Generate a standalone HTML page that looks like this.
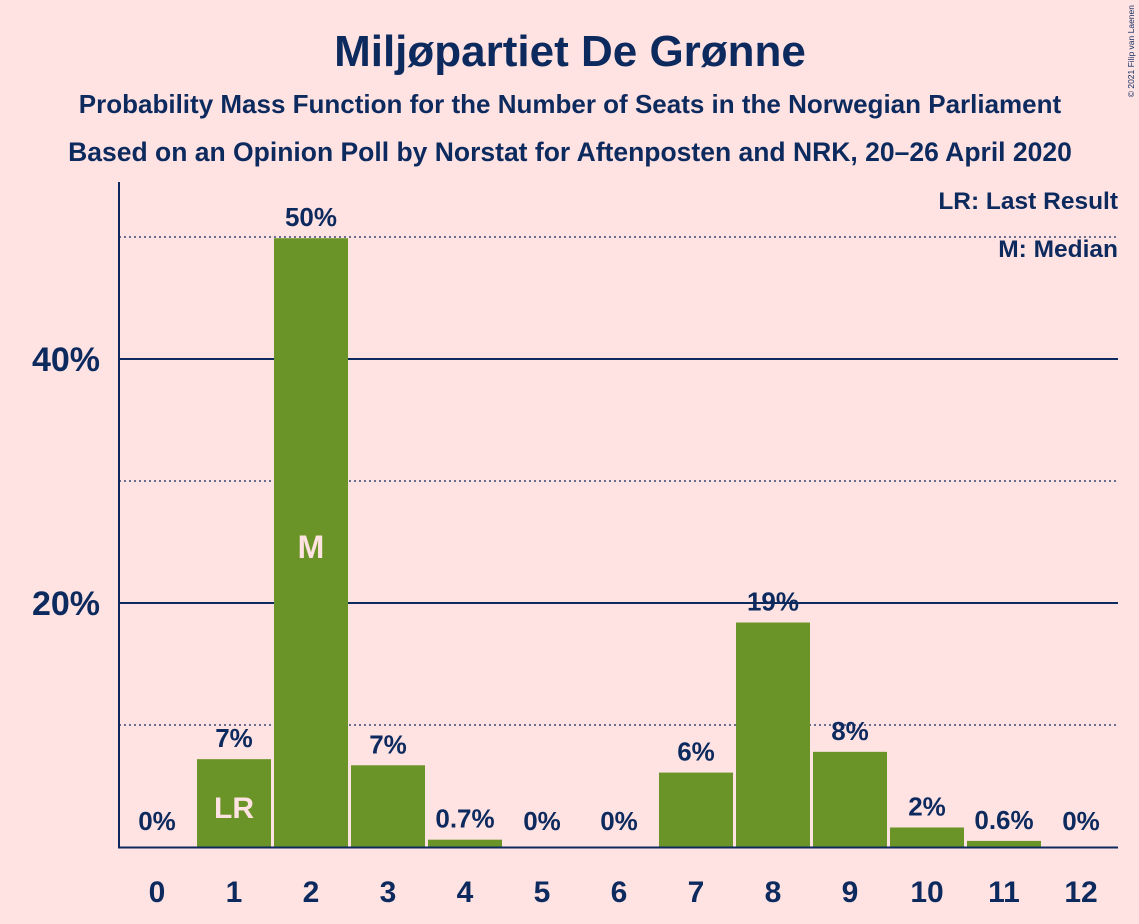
<!DOCTYPE html>
<html><head><meta charset="utf-8"><style>
body{margin:0;background:#ffe2e2;}
svg{display:block;font-family:"Liberation Sans",sans-serif;font-weight:bold;}
</style></head><body>
<svg id="chart" width="1139" height="924" viewBox="0 0 1139 924">
<rect width="1139" height="924" fill="#ffe2e2"/>
<text x="570" y="66" text-anchor="middle" font-size="44" fill="#0d2a5e">Miljøpartiet De Grønne</text>
<text x="570" y="113" text-anchor="middle" font-size="26" fill="#0d2a5e">Probability Mass Function for the Number of Seats in the Norwegian Parliament</text>
<text x="570" y="161" text-anchor="middle" font-size="26.5" fill="#0d2a5e">Based on an Opinion Poll by Norstat for Aftenposten and NRK, 20–26 April 2020</text>
<text x="1134" y="5" text-anchor="end" font-size="8.5" font-weight="normal" fill="#0d2a5e" transform="rotate(-90 1134 5)">© 2021 Filip van Laenen</text>
<text x="1118" y="209" text-anchor="end" font-size="24.5" fill="#0d2a5e">LR: Last Result</text>
<text x="1118" y="257" text-anchor="end" font-size="24.5" fill="#0d2a5e">M: Median</text>
<g id="grid"></g><g id="bars"></g><g id="labels"></g>
<line x1="119" y1="182" x2="119" y2="848" stroke="#0d2a5e" stroke-width="2"/>
<line x1="118" y1="847.5" x2="1118" y2="847.5" stroke="#0d2a5e" stroke-width="2"/>
</svg>
<script>
const seats=[0,1,2,3,4,5,6,7,8,9,10,11,12];
const probs=[0,7.2,49.9,6.7,0.6,0,0,6.1,18.4,7.8,1.6,0.5,0];
const valueLabels=["0%","7%","50%","7%","0.7%","0%","0%","6%","19%","8%","2%","0.6%","0%"];
const yTicks=[20,40];
const yTickLabels=["20%","40%"];
const dottedTicks=[10,30,50];
const lastResult=1, median=2;
const NS="http://www.w3.org/2000/svg";
const y=v=>847-v*12.2;
const x=i=>157+i*77.0;
const navy="#0d2a5e";
function mk(t,a,p){const e=document.createElementNS(NS,t);for(const k in a)e.setAttribute(k,a[k]);p.appendChild(e);return e;}
const g=document.getElementById('grid');
dottedTicks.forEach(v=>{const l=mk('line',{x1:119,x2:1118,y1:y(v),y2:y(v),stroke:navy,'stroke-width':1.2,'stroke-dasharray':'2,3'},g);

});
yTicks.forEach((v,i)=>{const l=mk('line',{x1:119,x2:1118,y1:y(v),y2:y(v),stroke:navy,'stroke-width':2},g);


const t=mk('text',{x:100,y:y(v)+12,'text-anchor':'end','font-size':34,fill:navy},g);t.textContent=yTickLabels[i];

});
const b=document.getElementById('bars'),L=document.getElementById('labels');
seats.forEach((s,i)=>{
 const v=probs[i];
 if(v>0){const r=mk('rect',{x:x(i)-37,y:y(v),width:74,height:847-y(v),fill:'#6b9428'},b);
 
 }
 const ly=v>0?y(v)-12:830;
 const t=mk('text',{x:x(i),y:ly,'text-anchor':'middle','font-size':26,fill:navy},L);t.textContent=valueLabels[i];
 
 
 const xt=mk('text',{x:x(i),y:902,'text-anchor':'middle','font-size':30,fill:navy},L);xt.textContent=s;
 
 
 if(i===lastResult){const m=mk('text',{x:x(i),y:818,'text-anchor':'middle','font-size':30,fill:'#ffe2e2'},L);m.textContent='LR';
 
 }
 if(i===median){const m=mk('text',{x:x(i),y:558,'text-anchor':'middle','font-size':32,fill:'#ffe2e2'},L);m.textContent='M';
 
 }
});
</script>
</body></html>
